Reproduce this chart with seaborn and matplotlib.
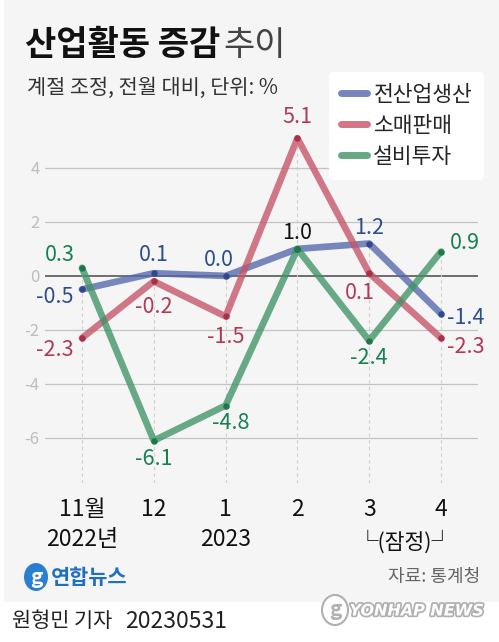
import matplotlib
matplotlib.use('Agg')
import matplotlib.pyplot as plt
import matplotlib.patheffects as pe
from matplotlib.patches import Rectangle, Ellipse
from matplotlib.lines import Line2D
import seaborn as sns
import pandas as pd

# 데이터 (계절 조정, 전월 대비 %)
months = ['11월', '12', '1', '2', '3', '4']
years = ['2022년', '', '2023', '', '', '']
production = [-0.5, 0.1, 0.0, 1.0, 1.2, -1.4]   # 전산업생산
retail = [-2.3, -0.2, -1.5, 5.1, 0.1, -2.3]      # 소매판매
invest = [0.3, -6.1, -4.8, 1.0, -2.4, 0.9]       # 설비투자
series = ['전산업생산', '소매판매', '설비투자']
yticks = [-6, -4, -2, 0, 2, 4]

sns.set_theme(style='white')
plt.rcParams['font.family'] = ['Noto Sans CJK KR', 'DejaVu Sans']

line_col = {'전산업생산': '#5468ad', '소매판매': '#c65468', '설비투자': '#3f9465'}
dot_col = {'전산업생산': '#2e4a8c', '소매판매': '#a83048', '설비투자': '#1d7a48'}
lab_col = {'전산업생산': '#2c4e8e', '소매판매': '#b03a52', '설비투자': '#178050'}

df = pd.DataFrame({'x': list(range(len(months))) * 3,
                   'value': production + retail + invest,
                   'series': [s for s in series for _ in months]})

fig = plt.figure(figsize=(4.99, 6.42), dpi=100)
fig.patch.set_facecolor('white')
fig.patches.append(Rectangle((4 / 499, 1 - 602 / 642), 495 / 499, 602 / 642,
                             transform=fig.transFigure, facecolor='#f5f5f5',
                             edgecolor='none', zorder=-10))

ax = fig.add_axes([45 / 499, 1 - 483 / 642, 433 / 499, 388 / 642])
ax.set_facecolor('none')
ax.set_xlim(-0.515, 5.515)
ax.set_ylim(-7.67, 6.7)

# 격자
for t in yticks:
    ax.axhline(t, color='#4a4a4a' if t == 0 else '#c4c4c4',
               lw=1.1 if t == 0 else 0.9, zorder=1)
tops = df.groupby('x')['value'].max()
for xi, top in tops.items():
    ax.vlines(xi, -7.67, top, colors='#cfcfcf', lw=0.8, linestyles=(0, (3, 3)), zorder=1)

sns.lineplot(data=df, x='x', y='value', hue='series', hue_order=series,
             palette=line_col, lw=4.8, alpha=0.78, legend=False, ax=ax,
             solid_capstyle='round', solid_joinstyle='round', zorder=3)
for s in series:
    d = df[df['series'] == s]
    ax.scatter(d['x'], d['value'], s=22, color=dot_col[s], zorder=4, lw=0)

# 값 레이블 (오프셋: 픽셀)
offsets = {
    '전산업생산': [(-27, -8), (0, 18), (-7, 16), (0, 16), (0, 16), (25, -4)],
    '소매판매': [(-27, -12), (0, -26), (0, -21), (0, 21), (-9, -20), (25, -9)],
    '설비투자': [(-22, 13), (0, -18), (5, -17), None, (0, -17), (24, 9)],
}
values = {'전산업생산': production, '소매판매': retail, '설비투자': invest}
for s in series:
    for i, v in enumerate(values[s]):
        off = offsets[s][i]
        if off is None:
            continue
        c = lab_col[s]
        if s == '전산업생산' and v == invest[i]:
            c = '#111111'
        ax.annotate(f'{v:.1f}', (i, v), xytext=off, textcoords='offset pixels',
                    ha='center', va='center', fontsize=15.5, fontweight='medium',
                    color=c, zorder=6)

ax.set_yticks(yticks)
ax.set_yticklabels([str(t) for t in yticks], color='#bdbdbd', fontsize=12)
ax.set_xticks(range(len(months)))
ax.set_xticklabels([])
ax.tick_params(length=0, pad=4)
ax.set_xlabel('')
ax.set_ylabel('')
sns.despine(ax=ax, left=True, bottom=True)

for i, (m, yr) in enumerate(zip(months, years)):
    ax.annotate(m, (i, 0), xycoords=('data', 'axes fraction'), xytext=(0, -26),
                textcoords='offset pixels', ha='center', va='center',
                fontsize=16.5, color='#111111')
    if yr:
        ax.annotate(yr, (i, 0), xycoords=('data', 'axes fraction'), xytext=(0, -56),
                    textcoords='offset pixels', ha='center', va='center',
                    fontsize=16.5, color='#111111')
ax.annotate('└(잠정)┘', (4.5, 0), xycoords=('data', 'axes fraction'), xytext=(0, -59),
            textcoords='offset pixels', ha='center', va='center',
            fontsize=15.5, color='#111111')

# 범례
handles = [Line2D([], [], color=line_col[s], lw=5, alpha=0.8, solid_capstyle='round')
           for s in series]
leg = fig.legend(handles, series, loc='upper right',
                 bbox_to_anchor=(484 / 499, 1 - 72 / 642), borderaxespad=0,
                 fontsize=15.5, frameon=True, handlelength=1.2, handletextpad=0.3,
                 labelspacing=0.42, borderpad=0.55, fancybox=True)
leg.get_frame().set_facecolor('white')
leg.get_frame().set_edgecolor('none')
leg.get_frame().set_alpha(1)

# 제목
fig.text(25 / 499, 1 - 45 / 642, '산업활동 증감', fontsize=24.5, fontweight='heavy',
         color='#111111', va='center', ha='left')
fig.text(223 / 499, 1 - 45 / 642, '추이', fontsize=24.5, fontweight='light',
         color='#444444', va='center', ha='left')
fig.text(27 / 499, 1 - 88 / 642, '계절 조정, 전월 대비, 단위: %', fontsize=15,
         color='#333333', va='center', ha='left')

# 하단
fig.patches.append(Ellipse((36 / 499, 1 - 577 / 642), 24 / 499, 28 / 642,
                           transform=fig.transFigure, facecolor='#2a7fd0',
                           edgecolor='none', zorder=5))
fig.text(36 / 499, 1 - 577 / 642, 'g', fontsize=15, fontweight='bold', style='italic',
         color='white', ha='center', va='center', zorder=6)
fig.text(51 / 499, 1 - 577 / 642, '연합뉴스', fontsize=15, fontweight='heavy',
         color='#1f6fc4', ha='left', va='center')
fig.text(480 / 499, 1 - 577 / 642, '자료: 통계청', fontsize=13, color='#666666',
         ha='right', va='center')
fig.text(12 / 499, 1 - 621 / 642, '원형민 기자', fontsize=15, color='#222222',
         ha='left', va='center')
fig.text(125 / 499, 1 - 621 / 642, '20230531', fontsize=16.5, color='#222222',
         ha='left', va='center')
fig.patches.append(Ellipse((335 / 499, 1 - 610 / 642), 26 / 499, 30 / 642,
                           transform=fig.transFigure, facecolor='white',
                           edgecolor='#b0b0b0', lw=1.5, zorder=5))
fig.text(335 / 499, 1 - 610 / 642, 'g', fontsize=15, fontweight='bold', style='italic',
         color='#b0b0b0', ha='center', va='center', zorder=6)
fig.text(484 / 499, 1 - 611 / 642, 'YONHAP NEWS', fontsize=11.5, fontweight='bold',
         style='italic', color='white', ha='right', va='center', family='DejaVu Sans',
         path_effects=[pe.withStroke(linewidth=2.5, foreground='#b0b0b0')])

fig.savefig('out.png', dpi=100, facecolor=fig.get_facecolor())
